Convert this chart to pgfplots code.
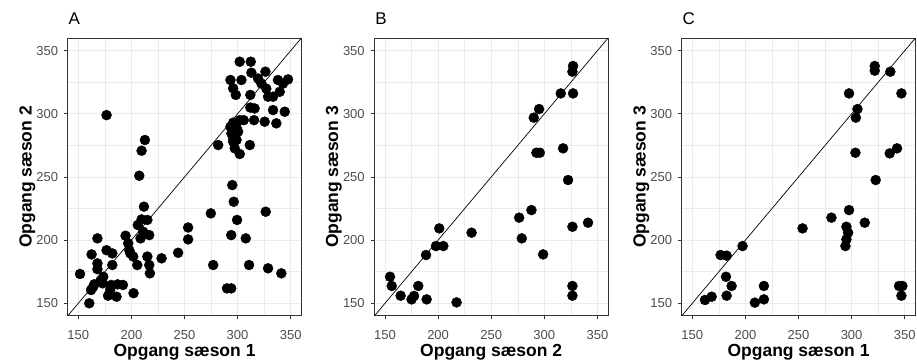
\documentclass[border=0pt]{standalone}
\usepackage{pgfplots}
\pgfplotsset{compat=1.18}
\usepackage{fontspec}
\setmainfont{Liberation Sans}
\definecolor{gridmaj}{HTML}{EBEBEB}
\definecolor{tickcol}{HTML}{4D4D4D}
\definecolor{framecol}{HTML}{333333}
\pgfplotsset{
  panel/.style={
    scale only axis, width=233.6pt, height=277.8pt, anchor=south west,
    xmin=140, xmax=360, ymin=140, ymax=360,
    xtick={150,200,250,300,350}, ytick={150,200,250,300,350},
    minor xtick={175,225,275,325}, minor ytick={175,225,275,325},
    grid=both,
    major grid style={draw=gridmaj, line width=1pt},
    minor grid style={draw=gridmaj, line width=0.5pt},
    axis line style={draw=framecol, line width=0.9pt},
    tick align=outside, tick pos=left,
    major tick length=3.5pt, minor tick length=0pt,
    every tick/.style={draw=framecol, line width=0.9pt},
    /pgf/number format/assume math mode=true,
    ticklabel style={font=\fontsize{13}{13}\selectfont, text=tickcol},
    xticklabel style={anchor=base, yshift=-20pt},
    yticklabel style={anchor=east, inner sep=0pt, xshift=-6pt},
    clip=true,
    axis on top=false,
  },
  pts/.style={only marks, mark=*, mark size=5pt, mark options={fill=black, draw=black, line width=0.4pt}},
}
\begin{document}
\begin{tikzpicture}[x=1pt,y=1pt]
\useasboundingbox (0,0) rectangle (917,362);
% Panel A
\begin{axis}[panel, at={(67.7pt,46.1pt)}]
\addplot[black, line width=0.7pt] coordinates {(140,140) (360,360)};
\addplot[pts] coordinates {
(151.6,173.2) (160.3,150) (162,160.5) (164,163) (162.5,188.7) (168,201.4)
(168,181.6) (168,177) (173.5,171) (173,165.8) (176.6,192) (182,189.5)
(182,180.3) (181,164.5) (180,160.5) (186,155.2) (178,156) (192,164.5)
(194.5,203.5) (197,197.5) (198,192) (199,189.5) (201.7,187) (205.5,180.3)
(202,158) (208.6,201.4) (209.6,216.4) (211.8,226.5) (215,216) (211,206.7)
(216.8,204) (215,187) (216.8,180.3) (217.4,173.7) (207.4,251) (209.6,270.8)
(212.7,279.3) (176.6,299) (228.4,185.6) (244,190) (253.4,210) (253.4,200.6)
(187,165) (171,168) (206,212) (165,165)
(274.8,221.2) (277,180.3) (290,161.8) (294,161.8) (294,204) (295,243.6)
(296.4,230.4) (299.5,216) (307.7,201.4) (310.8,180.3) (326.5,222.5)
(328.7,177.7) (341.2,173.7)
(302,341.3) (312.4,341.3) (313,332.6) (326.2,333.4) (293.3,326.8) (303.6,326.8)
(295.8,320.2) (298.3,315) (319.3,328) (322.4,324) (327,320) (328.7,313.6)
(333.4,313.6) (339.7,317.5) (338,326.8) (347.5,327.3) (342.8,324) (312,315)
(312,305) (316,304.3) (333.4,303) (344.4,301.7) (315.5,295) (325.5,293.8)
(336.5,292.5) (295.8,293) (302,295) (305.8,295) (293.3,289.8) (299,289)
(294.2,284.5) (300.5,285.9) (295.8,280.6) (299,279.3) (295.8,278)
(311.5,275.3) (281.7,275.3) (297.3,272.7) (302,268.2)
};
\end{axis}
% Panel B
\begin{axis}[panel, at={(374.4pt,46.1pt)}]
\addplot[black, line width=0.7pt] coordinates {(140,140) (360,360)};
\addplot[pts] coordinates {
(327.1,337.9) (326.5,333.4) (315.5,316.2) (327.1,316.2) (295.1,303.8)
(290.1,297) (292.6,269.2) (295.8,269.2) (317.7,272.7) (322.4,247.6)
(326.5,210.6) (341.2,213.8) (287.9,223.8) (276.3,217.8) (278.8,201.4)
(298.9,188.7) (326.5,163.7) (326.5,156) (231.5,205.9) (201.1,209.3)
(198,195.3) (204.9,195.3) (188.6,188.2) (154.7,171) (156.3,163.7)
(164.7,156) (175,153.1) (177.3,155.8) (181.3,163.7) (189.2,153.1) (217.4,150.7)
};
\end{axis}
% Panel C
\begin{axis}[panel, at={(681.7pt,46.1pt)}]
\addplot[black, line width=0.7pt] coordinates {(140,140) (360,360)};
\addplot[pts] coordinates {
(321.8,337.9) (321.8,334.2) (336.5,333.4) (346.9,316.2) (297.6,316.2)
(305.5,303.8) (304,297) (303.6,269.2) (335.9,268.7) (342.8,272.7)
(322.7,247.6) (297.6,223.8) (281,217.8) (312.4,213.8) (295.1,210.6)
(296.7,205.9) (295.1,200.6) (294.2,195.3) (253.8,209.3) (197.3,195.3)
(176.6,188.2) (182.3,187.7) (181.7,171) (187,163.7) (182.3,156)
(161.9,152.6) (168.2,155.2) (208.9,150.5) (217.4,163.7) (217.4,153.1)
(344.7,163.7) (347.8,163.7) (346.9,156)
};
\end{axis}
% titles
\node[anchor=base west, inner sep=0pt, font=\fontsize{17}{17}\selectfont] at (68.5,337) {A};
\node[anchor=base west, inner sep=0pt, font=\fontsize{17}{17}\selectfont] at (375.2,337) {B};
\node[anchor=base west, inner sep=0pt, font=\fontsize{17}{17}\selectfont] at (682.5,337) {C};
% x labels
\node[anchor=base, inner sep=0pt, font=\fontsize{17.5}{17.5}\selectfont\bfseries] at (184.5,6) {Opgang sæson 1};
\node[anchor=base, inner sep=0pt, font=\fontsize{17.5}{17.5}\selectfont\bfseries] at (491.2,6) {Opgang sæson 2};
\node[anchor=base, inner sep=0pt, font=\fontsize{17.5}{17.5}\selectfont\bfseries] at (798.5,6) {Opgang sæson 1};
% y labels
\node[rotate=90, anchor=base, inner sep=0pt, font=\fontsize{17.5}{17.5}\selectfont\bfseries] at (31.5,185) {Opgang sæson 2};
\node[rotate=90, anchor=base, inner sep=0pt, font=\fontsize{17.5}{17.5}\selectfont\bfseries] at (338.2,185) {Opgang sæson 3};
\node[rotate=90, anchor=base, inner sep=0pt, font=\fontsize{17.5}{17.5}\selectfont\bfseries] at (645.5,185) {Opgang sæson 3};
\end{tikzpicture}
\end{document}
